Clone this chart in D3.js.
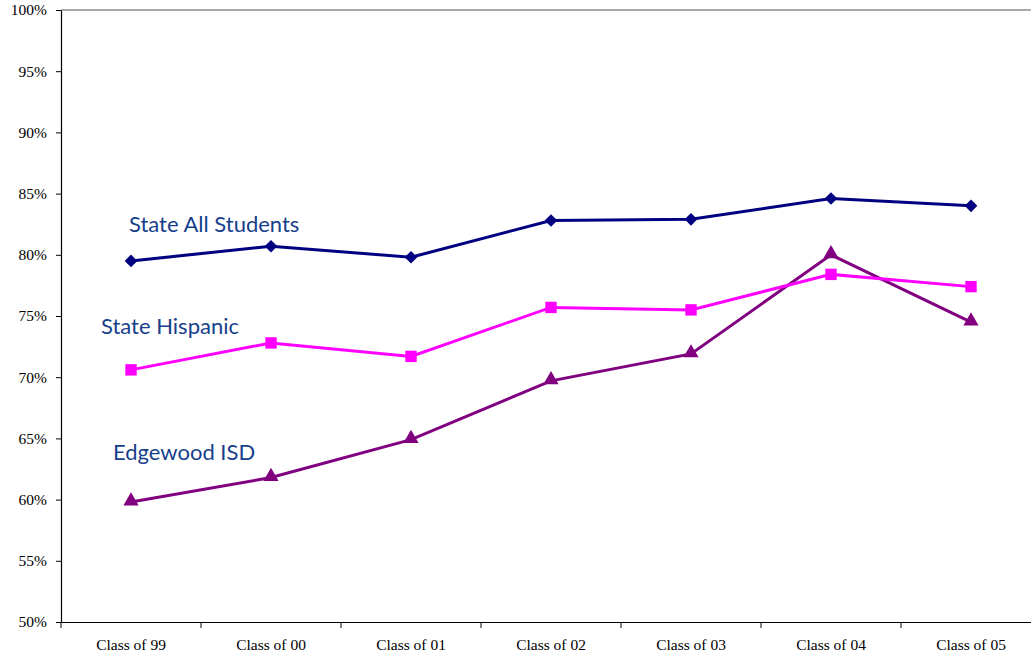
<!DOCTYPE html>
<html>
<head>
<meta charset="utf-8">
<script src="https://d3js.org/d3.v7.min.js"></script>
<style>
  body { margin: 0; background: #fff; }
  .tick text { font-family: "Liberation Serif", "Times New Roman", serif; font-size: 15.5px; fill: #000; }
  .lbl { font-family: Lato, "Open Sans", sans-serif; font-size: 22px; fill: #17408b; }
</style>
</head>
<body>
<div id="chart"></div>
<script>
// data
var categories = ["Class of 99", "Class of 00", "Class of 01", "Class of 02", "Class of 03", "Class of 04", "Class of 05"];
var stateAll = [79.5, 80.7, 79.8, 82.8, 82.9, 84.6, 84.0];
var stateHispanic = [70.6, 72.8, 71.7, 75.7, 75.5, 78.4, 77.4];
var edgewood = [59.8, 61.8, 64.9, 69.7, 71.9, 80.0, 74.5];
var yTicks = [50, 55, 60, 65, 70, 75, 80, 85, 90, 95, 100];

var W = 1031, H = 656;
var plotLeft = 61, plotTop = 10, plotBottom = 622;

var svg = d3.select("#chart").append("svg")
    .attr("width", W)
    .attr("height", H);

var x = d3.scaleBand()
    .domain(categories)
    .range([plotLeft, plotLeft + 7 * 140])
    .padding(0);

var y = d3.scaleLinear()
    .domain([50, 100])
    .range([plotBottom, plotTop]);

// plot area top border
svg.append("line")
    .attr("x1", plotLeft).attr("x2", W)
    .attr("y1", plotTop).attr("y2", plotTop)
    .attr("stroke", "#8c8c8c")
    .attr("stroke-width", 1.5);

var yAxis = svg.append("g")
    .attr("transform", "translate(" + plotLeft + ",0)")
    .call(d3.axisLeft(y).tickValues(yTicks).tickSize(5).tickSizeOuter(0)
        .tickFormat(function(d) { return d + "%"; }));
yAxis.select(".domain").attr("stroke", "#000").attr("stroke-width", 1.2);
yAxis.selectAll(".tick text").attr("dx", "-6");

var xAxis = svg.append("g")
    .attr("transform", "translate(0," + plotBottom + ")")
    .call(d3.axisBottom(x).tickSize(0).tickSizeOuter(0));
xAxis.select(".domain").attr("stroke", "#000").attr("stroke-width", 1.2);
xAxis.selectAll(".tick text").attr("dy", "1.6em");

// ticks between categories
xAxis.selectAll(".sep")
    .data(categories)
    .enter().append("line")
    .attr("class", "sep")
    .attr("x1", function(d) { return x(d); })
    .attr("x2", function(d) { return x(d); })
    .attr("y1", 0).attr("y2", 6)
    .attr("stroke", "#000");

var cx = function(d, i) { return x(categories[i]) + x.bandwidth() / 2; };

var line = d3.line()
    .x(function(d, i) { return x(categories[i]) + x.bandwidth() / 2; })
    .y(function(d) { return y(d); });

var series = [
    { values: edgewood, color: "#800080", symbol: d3.symbolTriangle, size: 100, rot: 0, dy: -1 },
    { values: stateHispanic, color: "#ff00ff", symbol: d3.symbolSquare, size: 130, rot: 0, dy: 0 },
    { values: stateAll, color: "#000080", symbol: d3.symbolSquare, size: 80, rot: 45, dy: 0 }
];

series.forEach(function(s) {
    svg.append("path")
        .datum(s.values)
        .attr("fill", "none")
        .attr("stroke", s.color)
        .attr("stroke-width", 3)
        .attr("d", line);

    svg.selectAll(null)
        .data(s.values)
        .enter().append("path")
        .attr("transform", function(d, i) {
            return "translate(" + cx(d, i) + "," + (y(d) + s.dy) + ") rotate(" + s.rot + ")";
        })
        .attr("d", d3.symbol().type(s.symbol).size(s.size))
        .attr("fill", s.color);
});

// series labels
svg.append("text").attr("class", "lbl").attr("x", 129).attr("y", 232).text("State All Students");
svg.append("text").attr("class", "lbl").attr("x", 101).attr("y", 334).text("State Hispanic");
svg.append("text").attr("class", "lbl").attr("x", 113).attr("y", 460).text("Edgewood ISD");
</script>
</body>
</html>
